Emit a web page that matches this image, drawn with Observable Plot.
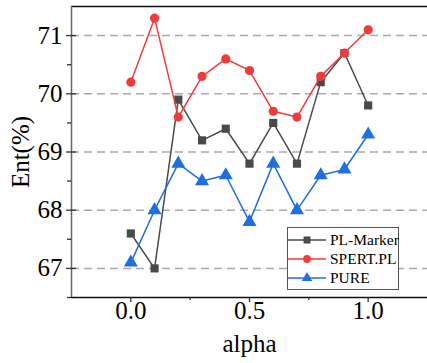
<!DOCTYPE html>
<html><head><meta charset="utf-8">
<script src="https://cdn.jsdelivr.net/npm/d3@7"></script>
<script src="https://cdn.jsdelivr.net/npm/@observablehq/plot@0.6"></script>
<style>
body{margin:0;background:#fff;}
#wrap{position:relative;width:427px;height:363px;overflow:hidden;font-family:"Liberation Serif","DejaVu Serif",serif;}
#legend{position:absolute;left:287px;top:227px;width:110px;height:59px;border:1.5px solid #555;background:#fff;box-sizing:content-box;white-space:nowrap;}
.row{display:flex;align-items:center;height:19px;font-size:15.5px;color:#000;font-family:"Liberation Serif","DejaVu Serif",serif;}
.row svg{margin-left:0px;margin-right:4px;flex:none;}
</style>
</head><body><div id="wrap"></div>
<script>
const alpha = [0.0, 0.1, 0.2, 0.3, 0.4, 0.5, 0.6, 0.7, 0.8, 0.9, 1.0];
const plMarker = [67.6, 67.0, 69.9, 69.2, 69.4, 68.8, 69.5, 68.8, 70.2, 70.7, 69.8];
const spertPL  = [70.2, 71.3, 69.6, 70.3, 70.6, 70.4, 69.7, 69.6, 70.3, 70.7, 71.1];
const pure     = [67.1, 68.0, 68.8, 68.5, 68.6, 67.8, 68.8, 68.0, 68.6, 68.7, 69.3];
const seriesNames = ["PL-Marker", "SPERT.PL", "PURE"];
const seriesValues = [plMarker, spertPL, pure];
const colors = ["#4a4a4a", "#ef3b3b", "#1f6fe0"];
const symbols = ["square", "circle", "triangle"];
const xTicks = [0.0, 0.5, 1.0];
const xMinorTicks = [0.25, 0.75];
const yTicks = [67, 68, 69, 70, 71];
const yMinorTicks = [66.5, 67.5, 68.5, 69.5, 70.5];
const xDomain = [-0.25, 1.25];
const yDomain = [66.5, 71.5];
const serif = "'Liberation Serif','DejaVu Serif',serif";

const rows = [];
seriesNames.forEach((name, i) => {
  alpha.forEach((a, j) => rows.push({series: name, alpha: a, value: seriesValues[i][j]}));
});

const marks = [
  Plot.ruleY(yTicks, {stroke: "#aaa", strokeWidth: 1.5, strokeDasharray: "8,5"}),
];
seriesNames.forEach((name, i) => {
  const d = rows.filter(r => r.series === name);
  marks.push(Plot.line(d, {x: "alpha", y: "value", stroke: colors[i], strokeWidth: 1.5}));
  marks.push(Plot.dot(d, {x: "alpha", y: "value", fill: colors[i], stroke: "none", symbol: symbols[i], r: i === 2 ? 5.2 : 4.6}));
});
marks.push(
  Plot.ruleY([yDomain[1]], {stroke: "#111", strokeWidth: 1.5}),
  Plot.ruleY([yDomain[0]], {stroke: "#111", strokeWidth: 1.5}),
  Plot.ruleX([xDomain[0]], {stroke: "#666", strokeWidth: 1.5}),
  Plot.axisY(yTicks, {anchor: "left", tickSize: 10, dx: 5, text: null, label: null, stroke: "#333", strokeWidth: 1.3}),
  Plot.axisY(yMinorTicks, {anchor: "left", tickSize: 4, text: null, label: null, stroke: "#333", strokeWidth: 1.3}),
  Plot.axisY(yTicks, {anchor: "left", tickSize: 0, tickPadding: 9, fontSize: 25, fontFamily: serif, tickFormat: d3.format("d"), label: "Ent(%)", labelAnchor: "center", labelArrow: "none", labelOffset: 60}),
  Plot.axisX(xTicks, {anchor: "bottom", tickSize: 5, text: null, label: null, stroke: "#333", strokeWidth: 1.3}),
  Plot.axisX(xMinorTicks, {anchor: "bottom", tickSize: 3, text: null, label: null, stroke: "#333", strokeWidth: 1.3}),
  Plot.axisX(xTicks, {anchor: "bottom", tickSize: 0, tickPadding: 4, fontSize: 25, fontFamily: serif, tickFormat: d3.format(".1f"), label: "alpha", labelAnchor: "center", labelArrow: "none", labelOffset: 54})
);

const chart = Plot.plot({
  width: 427,
  height: 363,
  marginLeft: 71,
  marginRight: 0,
  marginTop: 6,
  marginBottom: 66,
  style: {fontFamily: serif, fontSize: "25px", color: "#000", background: "#fff", overflow: "visible"},
  x: {domain: xDomain},
  y: {domain: yDomain},
  marks
});
d3.select(chart).selectAll("text").each(function() {
  this.style.fontSize = "25px";
  this.style.fontFamily = serif;
});
const wrap = document.getElementById("wrap");
wrap.appendChild(chart);

// legend
const legend = document.createElement("div");
legend.id = "legend";
legend.style.paddingTop = "2px";
seriesNames.forEach((name, i) => {
  const row = document.createElement("div");
  row.className = "row";
  const svg = d3.create("svg").attr("width", 38).attr("height", 14);
  svg.append("line").attr("x1", 0).attr("x2", 38).attr("y1", 7).attr("y2", 7).attr("stroke", colors[i]).attr("stroke-width", 1.5);
  svg.append("path").attr("transform", "translate(19,7)").attr("d", d3.symbol(i === 0 ? d3.symbolSquare : i === 1 ? d3.symbolCircle : d3.symbolTriangle, 48)()).attr("fill", colors[i]);
  row.appendChild(svg.node());
  const t = document.createElement("span");
  t.textContent = name;
  row.appendChild(t);
  legend.appendChild(row);
});
wrap.appendChild(legend);
</script>
</body></html>
